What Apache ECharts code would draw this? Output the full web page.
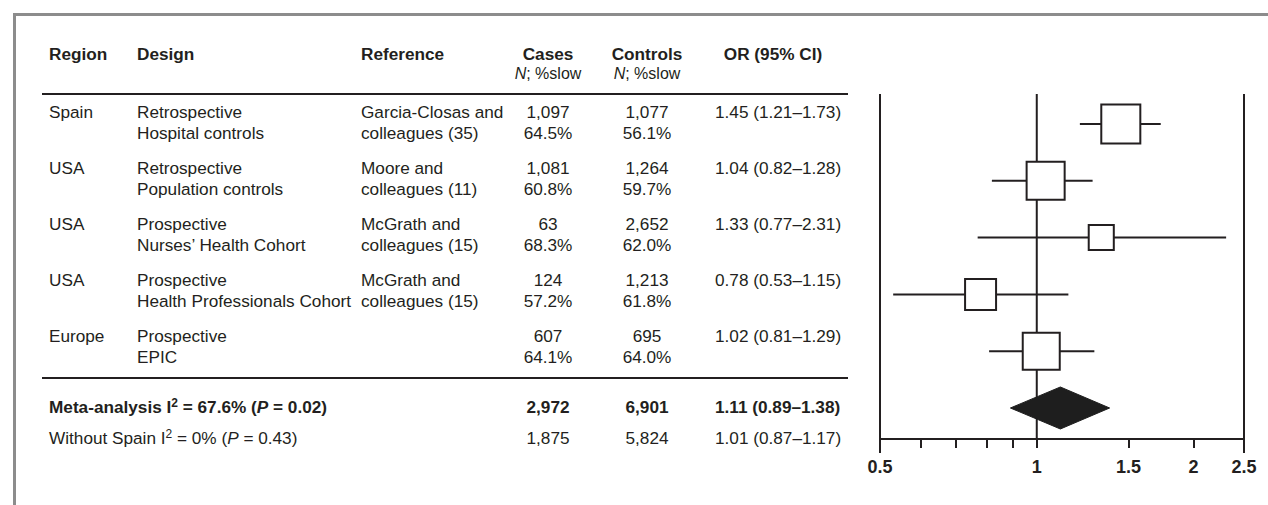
<!DOCTYPE html>
<html>
<head>
<meta charset="utf-8">
<script src="https://cdn.jsdelivr.net/npm/echarts@6/dist/echarts.min.js"></script>
<style>
html,body{margin:0;padding:0;background:#fff;}
#chart{width:1268px;height:505px;}
</style>
</head>
<body>
<div id="chart"></div>
<script>
// ---------------- data ----------------
const regions      = ['Spain', 'USA', 'USA', 'USA', 'Europe'];
const designs      = ['Retrospective', 'Retrospective', 'Prospective', 'Prospective', 'Prospective'];
const designSub    = ['Hospital controls', 'Population controls', 'Nurses\u2019 Health Cohort', 'Health Professionals Cohort', 'EPIC'];
const refLine1     = ['Garcia-Closas and', 'Moore and', 'McGrath and', 'McGrath and', ''];
const refLine2     = ['colleagues (35)', 'colleagues (11)', 'colleagues (15)', 'colleagues (15)', ''];
const casesN       = ['1,097', '1,081', '63', '124', '607'];
const casesPct     = ['64.5%', '60.8%', '68.3%', '57.2%', '64.1%'];
const controlsN    = ['1,077', '1,264', '2,652', '1,213', '695'];
const controlsPct  = ['56.1%', '59.7%', '62.0%', '61.8%', '64.0%'];
const orValues     = [1.45, 1.04, 1.33, 0.78, 1.02];
const ciLow        = [1.21, 0.82, 0.77, 0.53, 0.81];
const ciHigh       = [1.73, 1.28, 2.31, 1.15, 1.29];
const weights      = [25.7, 24.4, 10.6, 16.2, 23.1];   // study weights (%)
const metaRow      = { label: 'Meta-analysis', i2: '67.6%', p: '0.02', cases: '2,972', controls: '6,901', or: 1.11, lo: 0.89, hi: 1.38 };
const withoutRow   = { label: 'Without Spain', i2: '0%', p: '0.43', cases: '1,875', controls: '5,824', or: 1.01, lo: 0.87, hi: 1.17 };
const tickValues   = [0.5, 0.6, 0.7, 0.8, 0.9, 1, 1.5, 2, 2.5];
const tickLabels   = [0.5, 1, 1.5, 2, 2.5];

// ---------------- layout / style ----------------
const FONT = '"Liberation Sans", Arial, Helvetica, sans-serif';
const INK = '#231f20';
const FS = 17.2;
const SUB_FS = 16;
const COL = { region: 49, design: 137, ref: 361, cases: 548, controls: 647, or: 715, orHead: 773 };
const HEAD_Y = 54, SUB_Y = 73, RULE1_Y = 94, ROW_Y0 = 112, ROW_STEP = 56, LINE2 = 21, RULE2_Y = 378, META_Y = 407, WITHOUT_Y = 438;

const fmtOR = (o, l, h) => o.toFixed(2) + ' (' + l.toFixed(2) + '\u2013' + h.toFixed(2) + ')';

function txt(x, y, text, o) {
  o = o || {};
  const style = {
    text: text,
    fill: INK,
    font: (o.bold ? 'bold ' : '') + (o.size || FS) + 'px ' + FONT,
    textAlign: o.align || 'left',
    textVerticalAlign: 'middle'
  };
  if (o.rich) style.rich = o.rich;
  return { type: 'text', x: x, y: y, silent: true, style: style };
}

const graphics = [];
// outer grey frame
graphics.push({ type: 'polyline', silent: true, shape: { points: [[14.5, 505], [14.5, 14.5], [1268, 14.5]] }, style: { stroke: '#8c8c8c', lineWidth: 3, fill: null } });

// header
graphics.push(txt(COL.region, HEAD_Y, 'Region', { bold: true }));
graphics.push(txt(COL.design, HEAD_Y, 'Design', { bold: true }));
graphics.push(txt(COL.ref, HEAD_Y, 'Reference', { bold: true }));
graphics.push(txt(COL.cases, HEAD_Y, 'Cases', { bold: true, align: 'center' }));
graphics.push(txt(COL.controls, HEAD_Y, 'Controls', { bold: true, align: 'center' }));
graphics.push(txt(COL.orHead, HEAD_Y, 'OR (95% CI)', { bold: true, align: 'center' }));
const subRich = {
  i: { fontFamily: FONT, fontSize: SUB_FS, fontStyle: 'italic', fill: INK, lineHeight: 16 },
  n: { fontFamily: FONT, fontSize: SUB_FS, fill: INK, lineHeight: 16 }
};
graphics.push(txt(COL.cases, SUB_Y, '{i|N}{n|; %slow}', { align: 'center', size: SUB_FS, rich: subRich }));
graphics.push(txt(COL.controls, SUB_Y, '{i|N}{n|; %slow}', { align: 'center', size: SUB_FS, rich: subRich }));

// rules
graphics.push({ type: 'line', silent: true, shape: { x1: 42, y1: RULE1_Y, x2: 848, y2: RULE1_Y }, style: { stroke: INK, lineWidth: 2 } });
graphics.push({ type: 'line', silent: true, shape: { x1: 42, y1: RULE2_Y, x2: 848, y2: RULE2_Y }, style: { stroke: INK, lineWidth: 2 } });

// study rows
for (let i = 0; i < regions.length; i++) {
  const y1 = ROW_Y0 + i * ROW_STEP, y2 = y1 + LINE2;
  graphics.push(txt(COL.region, y1, regions[i]));
  graphics.push(txt(COL.design, y1, designs[i]));
  graphics.push(txt(COL.design, y2, designSub[i]));
  if (refLine1[i]) graphics.push(txt(COL.ref, y1, refLine1[i]));
  if (refLine2[i]) graphics.push(txt(COL.ref, y2, refLine2[i]));
  graphics.push(txt(COL.cases, y1, casesN[i], { align: 'center' }));
  graphics.push(txt(COL.cases, y2, casesPct[i], { align: 'center' }));
  graphics.push(txt(COL.controls, y1, controlsN[i], { align: 'center' }));
  graphics.push(txt(COL.controls, y2, controlsPct[i], { align: 'center' }));
  graphics.push(txt(COL.or, y1, fmtOR(orValues[i], ciLow[i], ciHigh[i])));
}

// summary rows
function summaryRich(bold) {
  const w = bold ? 'bold' : 'normal';
  return {
    t: { fontFamily: FONT, fontSize: FS, fontWeight: w, fill: INK, lineHeight: 20, verticalAlign: 'middle' },
    s: { fontFamily: FONT, fontSize: 12, fontWeight: w, fill: INK, lineHeight: 11, verticalAlign: 'top' },
    p: { fontFamily: FONT, fontSize: FS, fontWeight: w, fontStyle: 'italic', fill: INK, lineHeight: 20, verticalAlign: 'middle' }
  };
}
function summaryText(r) {
  return '{t|' + r.label + ' I}{s|2}{t| = ' + r.i2 + ' (}{p|P}{t| = ' + r.p + ')}';
}
graphics.push(txt(COL.region, META_Y, summaryText(metaRow), { rich: summaryRich(true) }));
graphics.push(txt(COL.cases, META_Y, metaRow.cases, { bold: true, align: 'center' }));
graphics.push(txt(COL.controls, META_Y, metaRow.controls, { bold: true, align: 'center' }));
graphics.push(txt(COL.or, META_Y, fmtOR(metaRow.or, metaRow.lo, metaRow.hi), { bold: true }));
graphics.push(txt(COL.region, WITHOUT_Y, summaryText(withoutRow), { rich: summaryRich(false) }));
graphics.push(txt(COL.cases, WITHOUT_Y, withoutRow.cases, { align: 'center' }));
graphics.push(txt(COL.controls, WITHOUT_Y, withoutRow.controls, { align: 'center' }));
graphics.push(txt(COL.or, WITHOUT_Y, fmtOR(withoutRow.or, withoutRow.lo, withoutRow.hi)));

// ---------------- forest plot ----------------
const Y_MIN = -0.528, Y_MAX = 5.546;
const studyData = orValues.map((v, i) => [v, i, ciLow[i], ciHigh[i], weights[i]]);
const pooledIndex = regions.length;
const BOX_K = 7.7;

const chart = echarts.init(document.getElementById('chart'), null, { renderer: 'svg' });
chart.setOption({
  animation: false,
  backgroundColor: '#fff',
  graphic: graphics,
  grid: { left: 880, right: 24, top: 94, bottom: 66 },
  xAxis: {
    type: 'log', logBase: 10, min: 0.5, max: 2.5, position: 'bottom',
    axisLine: { show: true, onZero: false, lineStyle: { color: INK, width: 2 } },
    axisTick: { show: true, customValues: tickValues, length: 9, lineStyle: { color: INK, width: 2 } },
    axisLabel: {
      customValues: tickLabels, margin: 19, color: INK,
      fontFamily: FONT, fontWeight: 'bold', fontSize: 18,
      formatter: v => String(+(+v).toFixed(2))
    },
    splitLine: { show: false }, minorTick: { show: false }
  },
  yAxis: { type: 'value', min: Y_MIN, max: Y_MAX, inverse: true, show: false },
  series: [
    {
      // frame borders and reference line at OR = 1
      type: 'custom', clip: false, silent: true,
      data: [[0.5, 14], [1, 0], [2.5, 14]],
      renderItem: function (params, api) {
        const x = api.value(0), ext = api.value(1);
        const top = api.coord([x, Y_MIN]);
        const bot = api.coord([x, Y_MAX]);
        return { type: 'line', shape: { x1: top[0], y1: top[1], x2: bot[0], y2: bot[1] + ext }, style: { stroke: INK, lineWidth: 2 } };
      },
      encode: { x: 0, y: -1 }
    },
    {
      type: 'custom', clip: false, silent: true,
      data: studyData,
      encode: { x: [0, 2, 3], y: 1 },
      renderItem: function (params, api) {
        const y = api.value(1);
        const c = api.coord([api.value(0), y]);
        const l = api.coord([api.value(2), y]);
        const h = api.coord([api.value(3), y]);
        const s = BOX_K * Math.sqrt(api.value(4));
        return {
          type: 'group',
          children: [
            { type: 'line', shape: { x1: l[0], y1: l[1], x2: h[0], y2: h[1] }, style: { stroke: INK, lineWidth: 2 } },
            { type: 'rect', shape: { x: c[0] - s / 2, y: c[1] - s / 2, width: s, height: s }, style: { fill: '#fff', stroke: INK, lineWidth: 2 } }
          ]
        };
      }
    },
    {
      type: 'custom', clip: false, silent: true,
      data: [[metaRow.or, pooledIndex, metaRow.lo, metaRow.hi]],
      encode: { x: [0, 2, 3], y: 1 },
      renderItem: function (params, api) {
        const y = api.value(1);
        const c = api.coord([api.value(0), y]);
        const l = api.coord([api.value(2), y]);
        const h = api.coord([api.value(3), y]);
        const hh = 21;
        return {
          type: 'polygon',
          shape: { points: [[l[0], l[1]], [c[0], c[1] - hh], [h[0], h[1]], [c[0], c[1] + hh]] },
          style: { fill: '#1e1e1e', stroke: '#1e1e1e', lineWidth: 1 }
        };
      }
    }
  ]
});
</script>
</body>
</html>
